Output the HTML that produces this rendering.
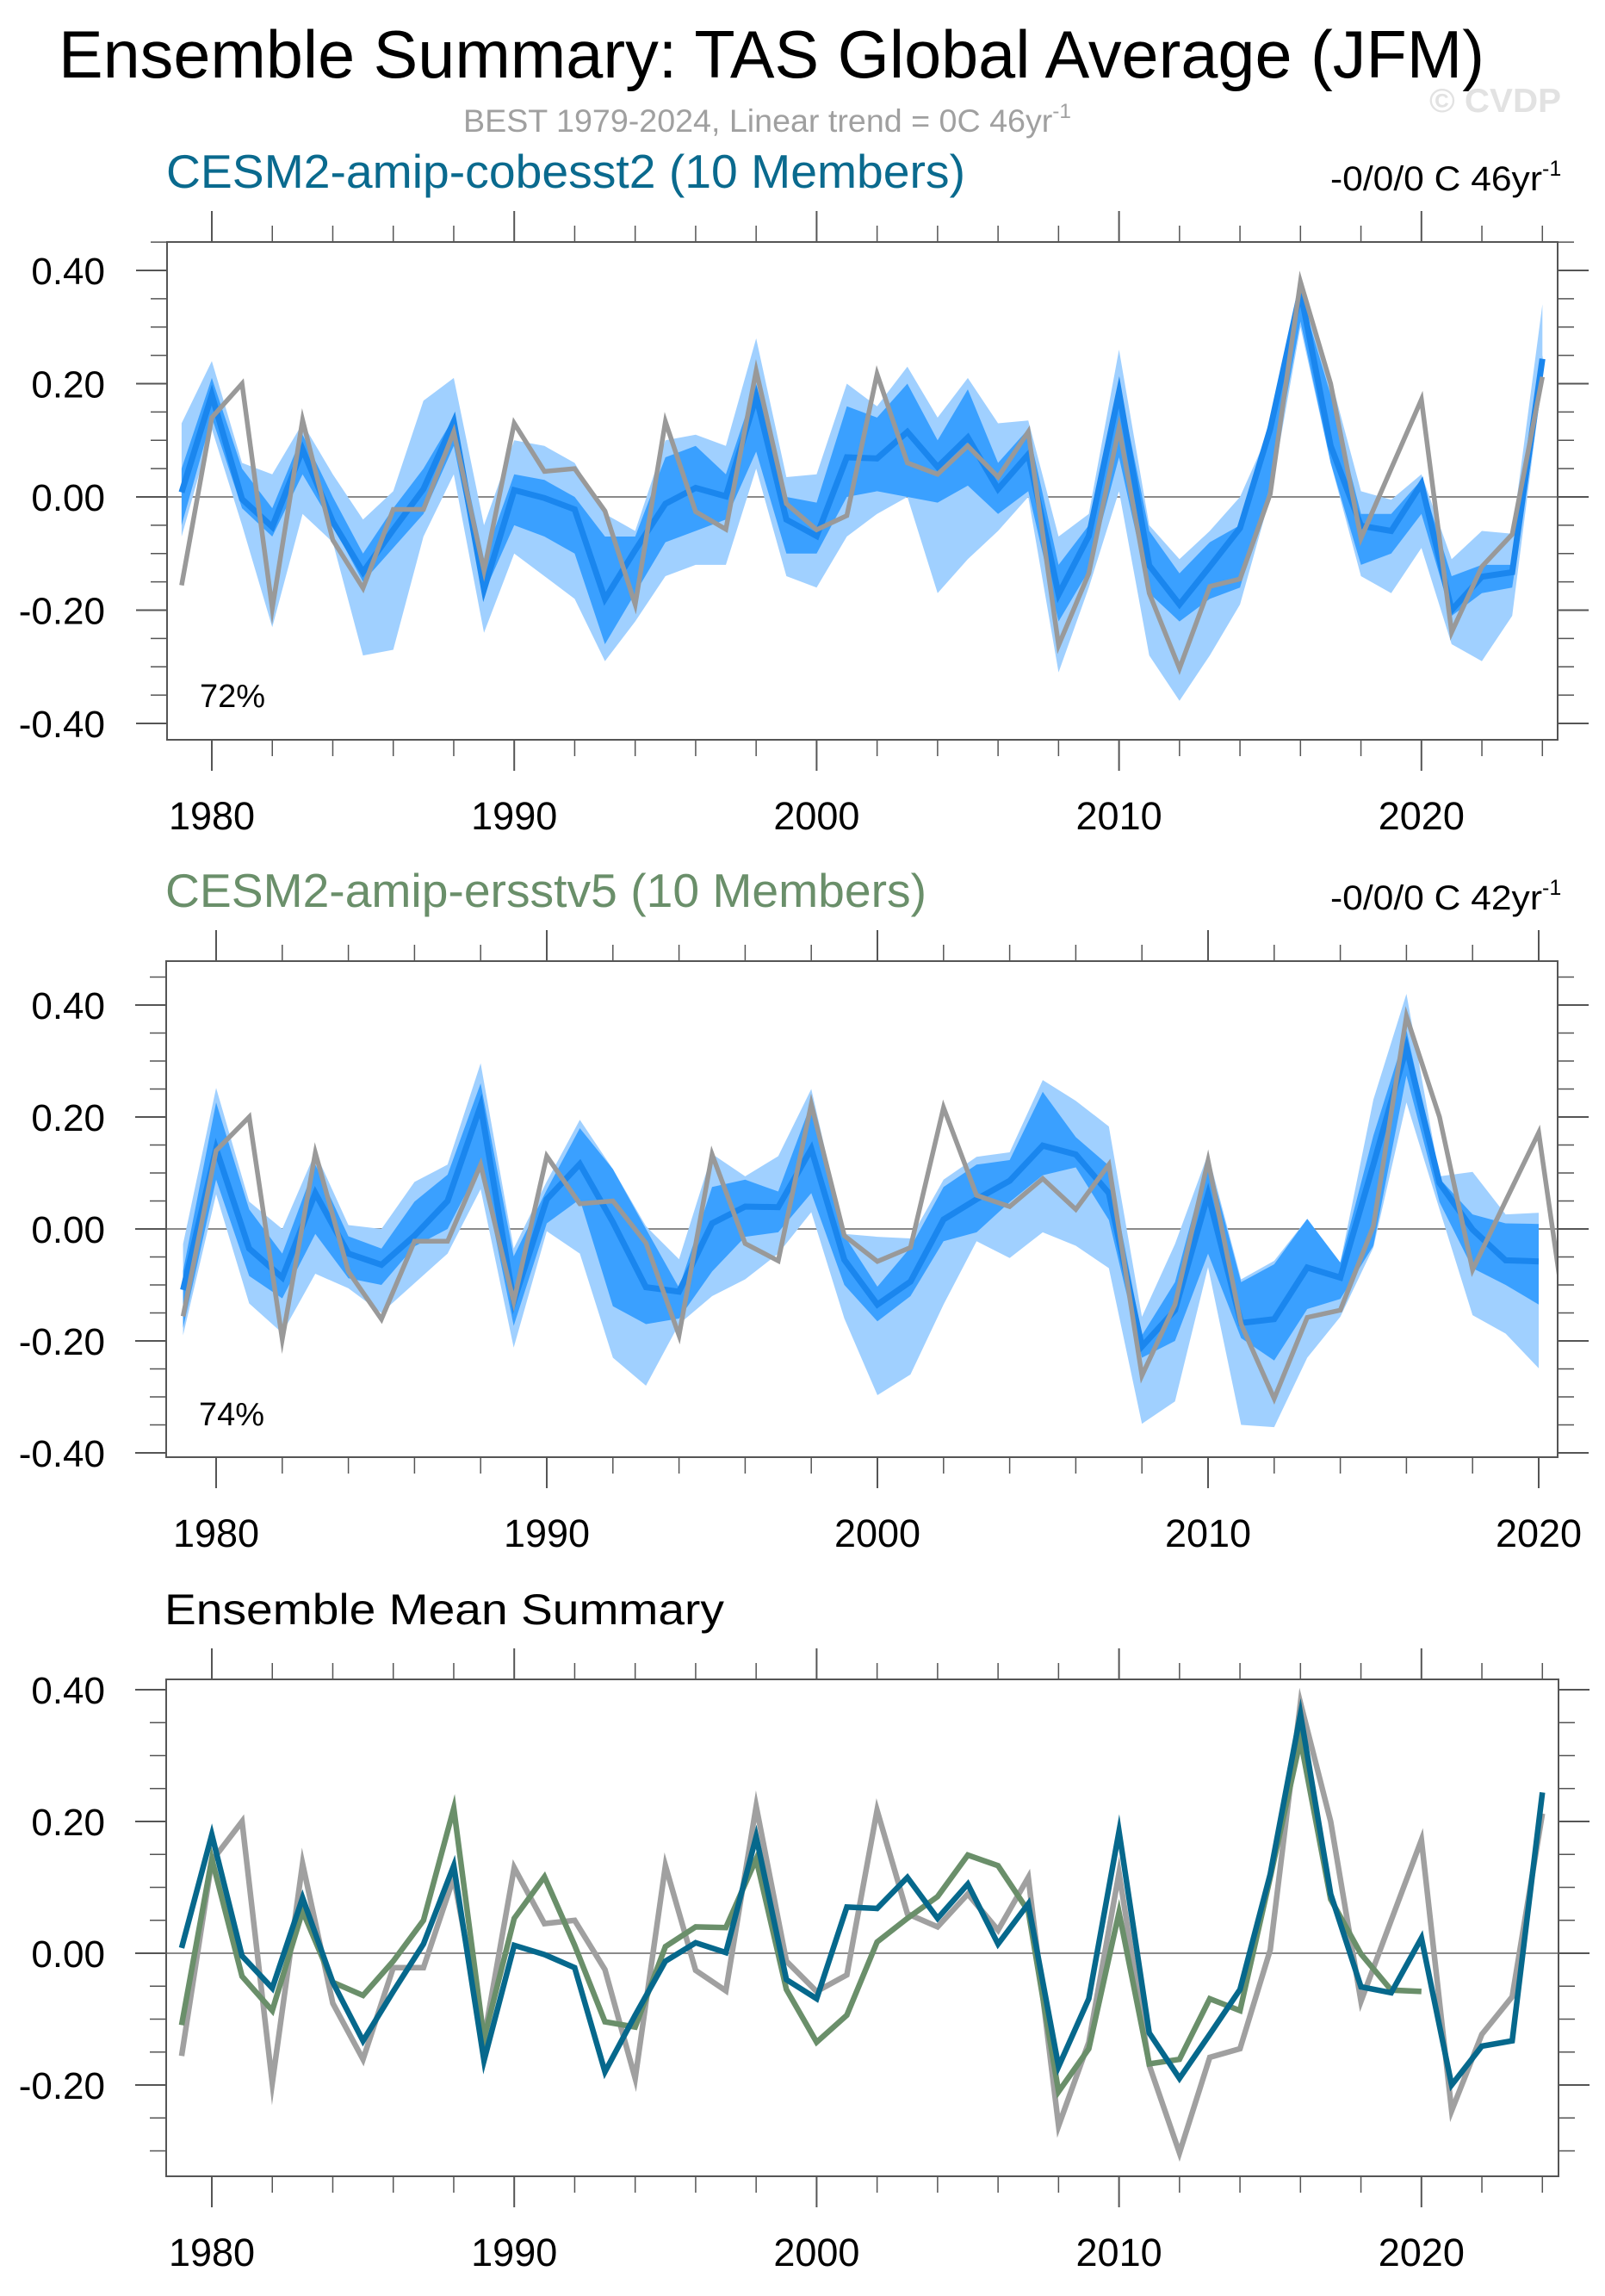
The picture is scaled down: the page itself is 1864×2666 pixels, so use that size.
<!DOCTYPE html>
<html><head><meta charset="utf-8"><title>Ensemble Summary: TAS Global Average (JFM)</title>
<style>
html,body{margin:0;padding:0;background:#fff;}
svg{display:block;font-family:"Liberation Sans",Arial,sans-serif;}
</style></head>
<body>
<svg id="chart" xmlns="http://www.w3.org/2000/svg" width="1864" height="2666" viewBox="0 0 1864 2666">
<rect x="0" y="0" width="1864" height="2666" fill="#fff"/>
<text x="68" y="90" font-size="78" fill="#000" textLength="1656" lengthAdjust="spacingAndGlyphs">Ensemble Summary: TAS Global Average (JFM)</text>
<text x="538" y="153" font-size="37" fill="#a0a0a0" textLength="706" lengthAdjust="spacingAndGlyphs">BEST 1979-2024, Linear trend = 0C 46yr<tspan dy="-16" font-size="24">-1</tspan></text>
<text x="1660" y="130" font-size="39" font-weight="bold" fill="#e2e2e2" textLength="153" lengthAdjust="spacingAndGlyphs">© CVDP</text>
<text x="193" y="218" font-size="55" fill="#0a6a8e" textLength="928" lengthAdjust="spacingAndGlyphs">CESM2-amip-cobesst2 (10 Members)</text>
<text x="1545" y="221" font-size="40" fill="#000"><tspan textLength="246" lengthAdjust="spacingAndGlyphs">-0/0/0 C 46yr</tspan><tspan dy="-17" font-size="25">-1</tspan></text>
<text x="192" y="1053" font-size="55" fill="#6a8f6a" textLength="884" lengthAdjust="spacingAndGlyphs">CESM2-amip-ersstv5 (10 Members)</text>
<text x="1545" y="1056" font-size="40" fill="#000"><tspan textLength="246" lengthAdjust="spacingAndGlyphs">-0/0/0 C 42yr</tspan><tspan dy="-17" font-size="25">-1</tspan></text>
<text x="191" y="1886" font-size="50" fill="#000" textLength="650" lengthAdjust="spacingAndGlyphs">Ensemble Mean Summary</text>
<text x="232" y="821" font-size="38" fill="#000">72%</text>
<text x="231" y="1655" font-size="38" fill="#000">74%</text>
</svg>
<script>
// ---- data ----
const yearsObs = [1979,1980,1981,1982,1983,1984,1985,1986,1987,1988,1989,1990,1991,1992,1993,1994,1995,1996,1997,1998,1999,2000,2001,2002,2003,2004,2005,2006,2007,2008,2009,2010,2011,2012,2013,2014,2015,2016,2017,2018,2019,2020,2021,2022,2023,2024];
const obsBEST = [-0.156,0.14,0.20,-0.197,0.136,-0.076,-0.161,-0.022,-0.022,0.115,-0.13,0.13,0.045,0.05,-0.025,-0.19,0.133,-0.026,-0.057,0.223,-0.012,-0.058,-0.033,0.217,0.06,0.04,0.09,0.035,0.115,-0.262,-0.135,0.122,-0.17,-0.303,-0.158,-0.145,0.005,0.38,0.20,-0.073,0.05,0.172,-0.239,-0.123,-0.066,0.212];
const meanCobe = [0.008,0.18,-0.004,-0.053,0.084,-0.044,-0.133,-0.058,0.014,0.133,-0.163,0.012,-0.002,-0.022,-0.18,-0.094,-0.012,0.016,0.001,0.177,-0.04,-0.069,0.07,0.068,0.115,0.053,0.105,0.014,0.075,-0.172,-0.069,0.185,-0.121,-0.19,-0.123,-0.055,0.12,0.363,0.09,-0.051,-0.06,0.023,-0.2,-0.141,-0.133,0.244];
const cobeOuterHi = [0.13,0.24,0.06,0.04,0.13,0.04,-0.04,0.01,0.17,0.21,-0.05,0.10,0.09,0.06,-0.03,-0.06,0.10,0.11,0.09,0.28,0.035,0.04,0.20,0.16,0.23,0.14,0.21,0.13,0.135,-0.07,-0.03,0.26,-0.05,-0.11,-0.06,0.00,0.12,0.38,0.21,0.01,-0.005,0.04,-0.11,-0.06,-0.065,0.34];
const cobeOuterLo = [-0.07,0.12,-0.05,-0.23,-0.03,-0.08,-0.28,-0.27,-0.07,0.04,-0.24,-0.10,-0.14,-0.18,-0.29,-0.22,-0.14,-0.12,-0.12,0.05,-0.14,-0.16,-0.07,-0.03,0.00,-0.17,-0.11,-0.06,0.0,-0.31,-0.16,0.01,-0.28,-0.36,-0.28,-0.19,0.00,0.30,0.06,-0.14,-0.17,-0.09,-0.26,-0.29,-0.21,0.21];
const cobeInnerHi = [0.05,0.21,0.05,-0.02,0.11,0.00,-0.10,-0.02,0.05,0.14,-0.11,0.04,0.03,0.00,-0.07,-0.07,0.07,0.09,0.04,0.20,0.0,-0.01,0.16,0.14,0.20,0.10,0.19,0.06,0.12,-0.12,-0.05,0.20,-0.06,-0.135,-0.08,-0.05,0.14,0.36,0.18,-0.03,-0.03,0.03,-0.14,-0.12,-0.12,0.25];
const cobeInnerLo = [-0.05,0.14,-0.02,-0.07,0.04,-0.05,-0.15,-0.09,-0.03,0.09,-0.17,-0.05,-0.07,-0.10,-0.26,-0.17,-0.08,-0.06,-0.04,0.08,-0.10,-0.10,0.00,0.01,0.00,-0.01,0.02,-0.03,0.01,-0.22,-0.13,0.07,-0.17,-0.22,-0.18,-0.16,0.02,0.31,0.06,-0.12,-0.10,-0.03,-0.21,-0.17,-0.16,0.20];
const yearsErs = [1979,1980,1981,1982,1983,1984,1985,1986,1987,1988,1989,1990,1991,1992,1993,1994,1995,1996,1997,1998,1999,2000,2001,2002,2003,2004,2005,2006,2007,2008,2009,2010,2011,2012,2013,2014,2015,2016,2017,2018,2019,2020];
const meanErs = [-0.109,0.143,-0.035,-0.087,0.064,-0.044,-0.064,-0.012,0.05,0.22,-0.13,0.053,0.116,0.012,-0.104,-0.112,0.01,0.04,0.039,0.143,-0.055,-0.135,-0.094,0.017,0.053,0.086,0.149,0.133,0.064,-0.21,-0.145,0.062,-0.168,-0.161,-0.069,-0.087,0.115,0.324,0.082,-0.001,-0.056,-0.058];
const ersOuterHi = [-0.027,0.252,0.049,0.0,0.137,0.007,0.0,0.084,0.115,0.296,-0.035,0.085,0.195,0.107,0.005,-0.054,0.134,0.094,0.13,0.25,-0.009,-0.014,-0.017,0.088,0.129,0.137,0.266,0.229,0.183,-0.157,-0.027,0.134,-0.09,-0.057,0.018,-0.06,0.231,0.42,0.094,0.102,0.026,0.029];
const ersOuterLo = [-0.19,0.062,-0.133,-0.186,-0.08,-0.106,-0.15,-0.097,-0.044,0.071,-0.212,-0.004,-0.044,-0.23,-0.28,-0.17,-0.12,-0.09,-0.044,0.03,-0.16,-0.297,-0.26,-0.135,-0.022,-0.052,-0.006,-0.03,-0.07,-0.348,-0.308,-0.068,-0.35,-0.354,-0.23,-0.157,-0.033,0.226,0.035,-0.154,-0.187,-0.249];
const ersInnerHi = [-0.075,0.226,0.035,-0.044,0.115,-0.013,-0.035,0.049,0.097,0.26,-0.049,0.07,0.18,0.107,0.0,-0.105,0.075,0.088,0.067,0.225,-0.012,-0.103,-0.033,0.075,0.115,0.123,0.245,0.164,0.113,-0.19,-0.095,0.126,-0.095,-0.063,0.018,-0.06,0.167,0.355,0.09,0.026,0.01,0.009];
const ersInnerLo = [-0.177,0.088,-0.084,-0.124,-0.009,-0.088,-0.1,-0.031,0.0,0.115,-0.173,0.01,0.053,-0.138,-0.17,-0.16,-0.076,-0.014,-0.006,0.064,-0.1,-0.165,-0.12,-0.022,-0.006,0.048,0.096,0.11,0.016,-0.23,-0.2,-0.044,-0.195,-0.235,-0.143,-0.125,-0.03,0.274,0.048,-0.07,-0.1,-0.135];
const yTickLabels = ["-0.40","-0.20","0.00","0.20","0.40"];
const yTickValues = [-0.4,-0.2,0,0.2,0.4];
const xTickLabels = ["1980","1990","2000","2010","2020"];
const xTickValues = [1980,1990,2000,2010,2020];

// ---- layout ----
const NS = "http://www.w3.org/2000/svg";
const svg = document.getElementById("chart");
function mk(tag, attrs, parent){ const e=document.createElementNS(NS,tag); for(const k in attrs) e.setAttribute(k,attrs[k]); (parent||svg).appendChild(e); return e; }

const panels = [
  {id:"panel1", L:194, R:1809, T:281, B:859, x0:246, dx:35.12, y0:577, sy:657.5},
  {id:"panel2", L:193, R:1809, T:1116, B:1692, x0:251, dx:38.4, y0:1427, sy:650},
  {id:"panel3", L:193, R:1810, T:1950, B:2527, x0:246, dx:35.12, y0:2268, sy:765}
];
function xs(p, yr){ return p.x0 + (yr-1980)*p.dx; }
function ys(p, v){ return p.y0 - v*p.sy; }

function band(p, yrs, hi, lo, color, name){
  let d = "";
  yrs.forEach((yr,i)=>{ d += (i?"L":"M") + xs(p,yr).toFixed(1)+","+ys(p,hi[i]).toFixed(1); });
  for(let i=yrs.length-1;i>=0;i--){ d += "L"+xs(p,yrs[i]).toFixed(1)+","+ys(p,lo[i]).toFixed(1); }
  const e = mk("path",{d:d+"Z", fill:color, stroke:"none", "clip-path":"url(#clip-"+p.id+")"});
  
  
}
function line(p, yrs, vals, color, w, name){
  const pts = yrs.map((yr,i)=>xs(p,yr).toFixed(1)+","+ys(p,vals[i]).toFixed(1)).join(" ");
  const e = mk("polyline",{points:pts, fill:"none", stroke:color, "stroke-width":w, "stroke-linejoin":"miter", "stroke-miterlimit":"10", "clip-path":"url(#clip-"+p.id+")"});
  
  
}

const defs = mk("defs",{});
panels.forEach(p=>{
  const cp = mk("clipPath",{id:"clip-"+p.id}, defs);
  mk("rect",{x:p.L, y:p.T, width:p.R-p.L, height:p.B-p.T}, cp);
});

panels.forEach((p,pi)=>{
  const g = mk("g",{});
  
  
  const z = mk("line",{x1:p.L, x2:p.R, y1:ys(p,0), y2:ys(p,0), stroke:"#8a8a8a", "stroke-width":2}, g);
  
  
  for(let k=-20;k<=20;k++){
    const v = k*0.05, y = ys(p,v);
    if(y < p.T-0.5 || y > p.B+0.5) continue;
    const major = (k%4===0);
    const len = major?36:19;
    mk("line",{x1:p.L-len, x2:p.L, y1:y, y2:y, stroke:"#555", "stroke-width":major?2:1.5}, g);
    mk("line",{x1:p.R, x2:p.R+len, y1:y, y2:y, stroke:"#555", "stroke-width":major?2:1.5}, g);
  }
  yTickValues.forEach((v,i)=>{
    const y = ys(p,v);
    if(y < p.T-0.5 || y > p.B+0.5) return;
    const t = mk("text",{x:122, y:y+16, "font-size":44, "text-anchor":"end", fill:"#000"}, g);
    t.textContent = yTickLabels[i];
    
    
  });
  for(let yr=1970; yr<=2030; yr+=2){
    const x = xs(p,yr);
    if(x < p.L || x > p.R) continue;
    const major = (yr%10===0);
    const len = major?36:19;
    mk("line",{x1:x, x2:x, y1:p.T-len, y2:p.T, stroke:"#555", "stroke-width":major?2:1.5}, g);
    mk("line",{x1:x, x2:x, y1:p.B, y2:p.B+len, stroke:"#555", "stroke-width":major?2:1.5}, g);
  }
  xTickValues.forEach((yr,i)=>{
    const t = mk("text",{x:xs(p,yr), y:p.B+104, "font-size":45, "text-anchor":"middle", fill:"#000"}, g);
    t.textContent = xTickLabels[i];
    
    
  });
});

const p1=panels[0], p2=panels[1], p3=panels[2];
band(p1, yearsObs, cobeOuterHi, cobeOuterLo, "#a0d0ff", "cobesst2-full-range");
band(p1, yearsObs, cobeInnerHi, cobeInnerLo, "#3aa0ff", "cobesst2-iqr-range");
line(p1, yearsObs, meanCobe, "#1a86ee", 7, "cobesst2-ensemble-mean");
line(p1, yearsObs, obsBEST, "#999999", 5.5, "best-observations");
band(p2, yearsErs, ersOuterHi, ersOuterLo, "#a0d0ff", "ersstv5-full-range");
band(p2, yearsErs, ersInnerHi, ersInnerLo, "#3aa0ff", "ersstv5-iqr-range");
line(p2, yearsErs, meanErs, "#1a86ee", 7, "ersstv5-ensemble-mean");
line(p2, yearsObs, obsBEST, "#999999", 5.5, "best-observations");
line(p3, yearsObs, obsBEST, "#a0a0a0", 6.5, "best-observations-summary");
line(p3, yearsErs, meanErs, "#6a8f6a", 6.5, "ersstv5-mean-summary");
line(p3, yearsObs, meanCobe, "#06688c", 6.5, "cobesst2-mean-summary");

panels.forEach(p=>{
  const r = mk("rect",{x:p.L, y:p.T, width:p.R-p.L, height:p.B-p.T, fill:"none", stroke:"#555", "stroke-width":2});
  
  
});
</script>
</body></html>
